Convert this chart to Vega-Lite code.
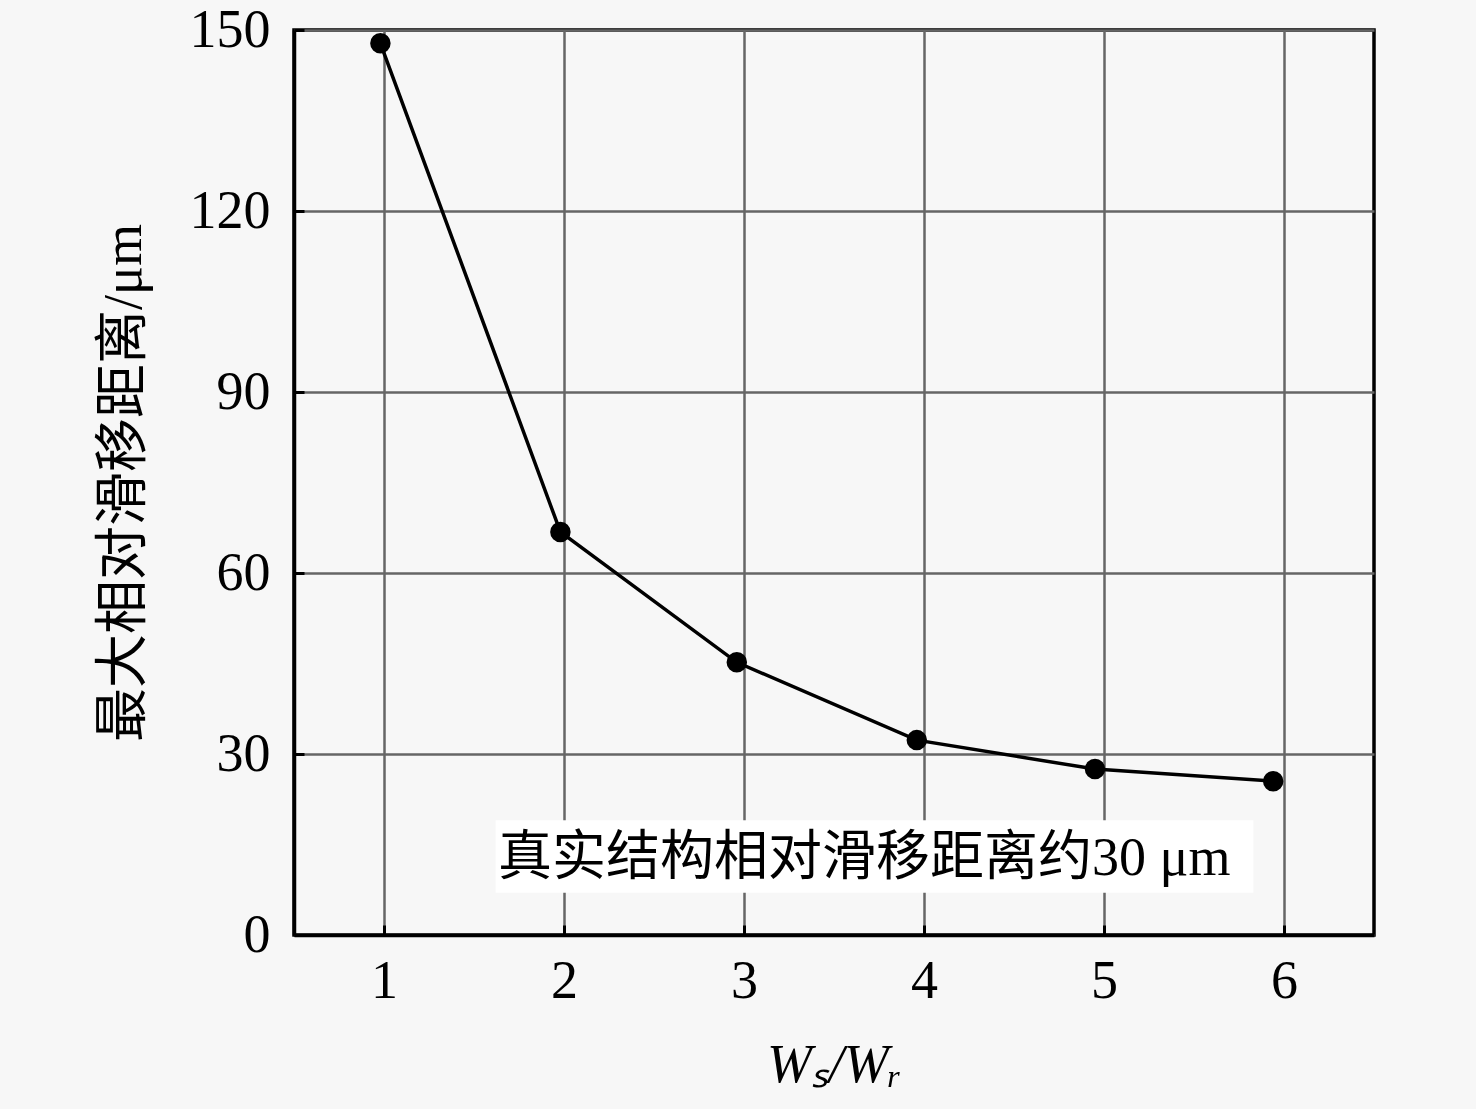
{
  "$schema": "https://vega.github.io/schema/vega-lite/v6.json",
  "description": "最大相对滑移距离 vs Ws/Wr",
  "autosize": {"type": "none"},
  "padding": {"left": 294, "top": 30, "right": 102, "bottom": 174},
  "width": 1080,
  "height": 905,
  "background": "#f7f7f7",
  "config": {
    "view": {"stroke": "black", "strokeWidth": 3.5, "fill": "#f7f7f7"},
    "font": "Liberation Serif, Noto Sans CJK SC",
    "axis": {
      "labelFont": "Liberation Serif",
      "labelFontSize": 54,
      "labelColor": "black",
      "titleFont": "Liberation Serif, Noto Sans CJK SC",
      "titleFontSize": 54,
      "titleFontWeight": "normal",
      "titleColor": "black",
      "domainColor": "black",
      "domainWidth": 3.5,
      "tickColor": "black",
      "tickWidth": 3,
      "tickSize": -10,
      "gridColor": "#666666",
      "gridWidth": 2.5,
      "gridOpacity": 1
    }
  },
  "datasets": {
    "pts": [
      {"ratio": 0.98, "slip": 147.8},
      {"ratio": 1.98, "slip": 66.8},
      {"ratio": 2.96, "slip": 45.2},
      {"ratio": 3.96, "slip": 32.3},
      {"ratio": 4.95, "slip": 27.5},
      {"ratio": 5.94, "slip": 25.5}
    ],
    "note": [
      {"x": 1.62, "x2": 5.83, "y": 7, "y2": 19, "tx": 1.633, "ty": 12.6, "label": "真实结构相对滑移距离约30 μm"}
    ]
  },
  "encoding": {
    "x": {
      "field": "ratio",
      "type": "quantitative",
      "scale": {"domain": [0.5, 6.5], "nice": false, "zero": false},
      "axis": {
        "values": [1, 2, 3, 4, 5, 6],
        "labelPadding": 29,
        "title": "Wₛ/Wᵣ",
        "titleFontStyle": "italic",
        "titlePadding": 30
      }
    },
    "y": {
      "field": "slip",
      "type": "quantitative",
      "scale": {"domain": [0, 150], "nice": false},
      "axis": {
        "values": [0, 30, 60, 90, 120, 150],
        "labelPadding": 34,
        "title": "最大相对滑移距离/μm",
        "titlePadding": 38
      }
    }
  },
  "layer": [
    {
      "data": {"name": "note"},
      "mark": {"type": "rect", "fill": "white"},
      "encoding": {
        "x": {"field": "x", "type": "quantitative"},
        "x2": {"field": "x2"},
        "y": {"field": "y", "type": "quantitative"},
        "y2": {"field": "y2"}
      }
    },
    {
      "data": {"name": "note"},
      "mark": {"type": "text", "align": "left", "baseline": "middle", "fontSize": 54, "font": "Liberation Serif, Noto Sans CJK SC", "color": "black"},
      "encoding": {
        "x": {"field": "tx", "type": "quantitative"},
        "y": {"field": "ty", "type": "quantitative"},
        "text": {"field": "label"}
      }
    },
    {
      "data": {"name": "pts"},
      "mark": {"type": "line", "color": "black", "strokeWidth": 3.5}
    },
    {
      "data": {"name": "pts"},
      "mark": {"type": "point", "filled": true, "color": "black", "size": 420, "opacity": 1}
    }
  ]
}
